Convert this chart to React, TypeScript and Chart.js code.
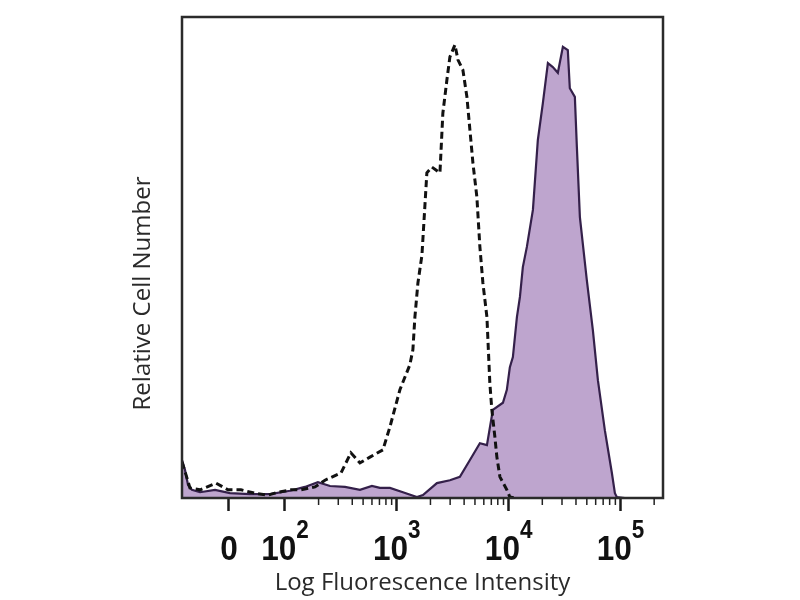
import { useEffect, useRef } from "react"
import { Chart, registerables } from "chart.js"

Chart.register(...registerables)

// x values are in decades of fluorescence (log display units), y is relative cell count (% of max)
const isotypeX = [
  1.08, 1.116, 1.151, 1.241, 1.384, 1.491, 1.607, 1.732, 1.849, 1.938, 2.054, 2.143, 2.269, 2.358,
  2.501, 2.59, 2.671, 2.76, 2.876, 2.939, 3.028, 3.117, 3.144, 3.162, 3.189, 3.225, 3.269, 3.314,
  3.386, 3.412, 3.448, 3.475, 3.52, 3.547, 3.591, 3.627, 3.654, 3.681, 3.716, 3.743, 3.77, 3.806,
  3.832, 3.85, 3.877, 3.895, 3.922, 3.984, 4.011, 4.056,
]
const isotypeY = [
  7.5, 4.8, 2.1, 1.7, 3.1, 1.7, 1.7, 1.0, 0.6, 1.2, 1.7, 1.7, 2.3, 3.7,
  5.2, 9.4, 7.3, 8.5, 10.0, 14.8, 22.5, 27.7, 30.8, 37.6, 44.7, 50.5, 67.6, 68.8,
  67.6, 80.0, 86.9, 91.7, 94.2, 91.1, 89.0, 83.4, 76.5, 69.6, 62.6, 52.2, 44.7, 37.6,
  23.9, 18.3, 12.7, 8.5, 4.4, 1.7, 0.2, 0,
]

const stainedX = [
  1.08, 1.107, 1.134, 1.169, 1.241, 1.375, 1.509, 1.688, 1.866, 2.045, 2.179, 2.295, 2.403, 2.537,
  2.671, 2.778, 2.849, 2.939, 3.055, 3.18, 3.234, 3.359, 3.475, 3.564, 3.654, 3.743, 3.806, 3.859,
  3.949, 3.984, 4.011, 4.038, 4.074, 4.101, 4.127, 4.163, 4.217, 4.261, 4.306, 4.351, 4.395, 4.44,
  4.485, 4.529, 4.547, 4.592, 4.61, 4.637, 4.699, 4.753, 4.798, 4.86, 4.923, 4.95, 4.967, 5.039,
  5.378,
]
const stainedY = [
  7.9, 5.8, 2.7, 1.7, 1.2, 1.7, 1.0, 0.8, 0.8, 1.5, 2.3, 3.3, 2.5, 2.3,
  1.7, 2.5, 2.1, 2.1, 1.2, 0.2, 0.6, 3.1, 3.7, 4.4, 7.9, 11.4, 11.0, 18.3,
  19.8, 22.5, 27.2, 29.3, 37.6, 41.8, 48.0, 52.2, 59.9, 74.4, 82.1, 90.4, 89.6, 88.4,
  93.8, 93.1, 85.2, 83.4, 73.0, 58.4, 45.3, 34.9, 24.5, 14.1, 5.2, 1.0, 0.2, 0,
  0,
]

// major ticks: "0", 10^2 .. 10^5 on the biexponential axis
const tickValues = [1.5, 2, 3, 4, 5]
const tickBases = ["0", "10", "10", "10", "10"]
const tickPowers = ["", "2", "3", "4", "5"]
const minorDecades = [2, 3, 4, 5]
const minorSteps = [2, 3, 4, 5, 6, 7, 8, 9]

const LABEL_FONT = '"Liberation Sans", Arial, sans-serif'
const TITLE_FONT = '"Open Sans", "DejaVu Sans", sans-serif'
const BASE_FONT = `bold 35px ${LABEL_FONT}`
const POWER_FONT = `bold 25px ${LABEL_FONT}`

const flowAxisPlugin = {
  id: "flowAxis",
  afterDraw(chart: Chart) {
    const { ctx, chartArea } = chart
    const xs = chart.scales.x
    ctx.save()

    // frame
    ctx.strokeStyle = "#2b2b2b"
    ctx.lineWidth = 2.5
    ctx.strokeRect(chartArea.left, chartArea.top, chartArea.right - chartArea.left, chartArea.bottom - chartArea.top)

    // minor ticks
    ctx.lineWidth = 1.5
    ctx.strokeStyle = "#222"
    minorDecades.forEach((d) => {
      minorSteps.forEach((k) => {
        const v = d + Math.log10(k)
        if (v > xs.max) return
        const px = xs.getPixelForValue(v)
        ctx.beginPath()
        ctx.moveTo(px, chartArea.bottom)
        ctx.lineTo(px, chartArea.bottom + 7)
        ctx.stroke()
      })
    })

    // tick labels with superscript powers (slightly condensed like the original)
    ctx.fillStyle = "#111"
    ctx.textBaseline = "alphabetic"
    ctx.textAlign = "left"
    const squeeze = 0.9
    tickValues.forEach((v, i) => {
      const px = xs.getPixelForValue(v)
      ctx.font = BASE_FONT
      const bw = ctx.measureText(tickBases[i]).width * squeeze
      ctx.font = POWER_FONT
      const pw = tickPowers[i] ? ctx.measureText(tickPowers[i]).width * squeeze : 0
      const start = px - (bw + pw) / 2
      ctx.save()
      ctx.translate(start, 0)
      ctx.scale(squeeze, 1)
      ctx.font = BASE_FONT
      ctx.fillText(tickBases[i], 0, chartArea.bottom + 62)
      ctx.restore()
      if (tickPowers[i]) {
        ctx.save()
        ctx.translate(start + bw, 0)
        ctx.scale(squeeze, 1)
        ctx.font = POWER_FONT
        ctx.fillText(tickPowers[i], 0, chartArea.bottom + 40)
        ctx.restore()
      }
    })

    // y title
    ctx.translate(chartArea.left - 39, (chartArea.top + chartArea.bottom) / 2 + 36)
    ctx.rotate(-Math.PI / 2)
    ctx.font = `24px ${TITLE_FONT}`
    ctx.fillStyle = "#2a2a2a"
    ctx.textAlign = "center"
    ctx.textBaseline = "middle"
    ctx.fillText("Relative Cell Number", 0, 0)
    ctx.restore()
  },
}

export default function App() {
  const chartRef = useRef<HTMLCanvasElement>(null)
  const chartInstance = useRef<Chart | null>(null)

  useEffect(() => {
    if (!chartRef.current) return
    if (chartInstance.current) chartInstance.current.destroy()
    const ctx = chartRef.current.getContext("2d")
    if (!ctx) return

    chartInstance.current = new Chart(ctx, {
      type: "line",
      data: {
        datasets: [
          {
            label: "Isotype control",
            data: isotypeX.map((x, i) => ({ x, y: isotypeY[i] })),
            borderColor: "#111",
            borderWidth: 3,
            borderDash: [7, 4],
            fill: false,
            pointRadius: 0,
            tension: 0,
          },
          {
            label: "Stained",
            data: stainedX.map((x, i) => ({ x, y: stainedY[i] })),
            borderColor: "#34204a",
            backgroundColor: "rgba(186, 160, 203, 0.95)",
            borderWidth: 2.2,
            fill: "origin",
            pointRadius: 0,
            tension: 0,
          },
        ],
      },
      options: {
        responsive: true,
        maintainAspectRatio: false,
        animation: false,
        layout: { padding: { top: 17, right: 137, left: 0, bottom: 0 } },
        plugins: {
          legend: { display: false },
          tooltip: { enabled: false },
        },
        scales: {
          x: {
            type: "linear",
            min: 1.08,
            max: 5.38,
            afterBuildTicks: (scale) => {
              scale.ticks = tickValues.map((value) => ({ value }))
            },
            afterFit: (scale) => {
              scale.height = 102
            },
            ticks: { display: false },
            grid: {
              drawOnChartArea: false,
              drawTicks: true,
              tickLength: 13,
              tickColor: "#1a1a1a",
              tickWidth: 2.5,
            },
            border: { display: false },
            title: {
              display: true,
              text: "Log Fluorescence Intensity",
              color: "#2a2a2a",
              font: { family: TITLE_FONT, size: 24 },
              padding: { top: 0, bottom: 2 },
            },
          },
          y: {
            min: 0,
            max: 100,
            afterFit: (scale) => {
              scale.width = 182
            },
            ticks: { display: false },
            grid: { display: false },
            border: { display: false },
          },
        },
      },
      plugins: [flowAxisPlugin],
    })

    return () => {
      if (chartInstance.current) {
        chartInstance.current.destroy()
        chartInstance.current = null
      }
    }
  }, [])

  return (
    <div style={{ position: "fixed", left: 0, top: 0, width: 800, height: 600, background: "#fff" }}>
      <canvas ref={chartRef} />
    </div>
  )
}
